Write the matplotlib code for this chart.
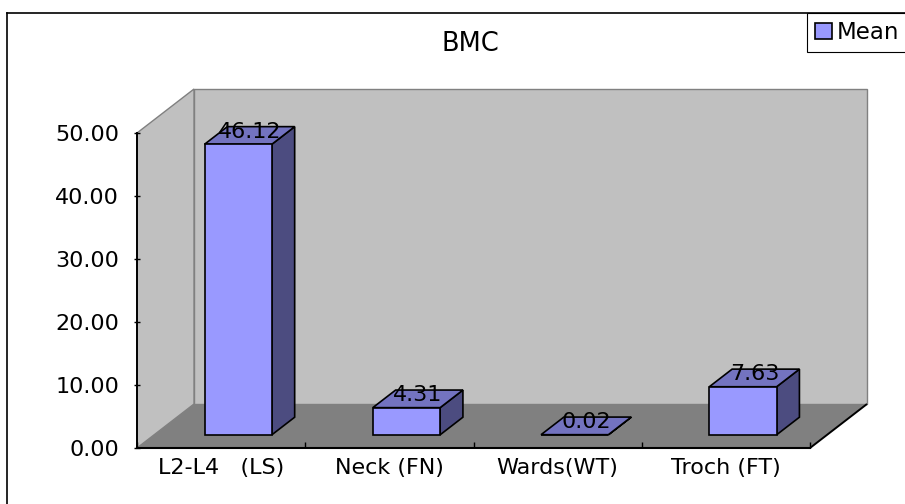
import matplotlib
matplotlib.use("Agg")
import matplotlib.pyplot as plt
from matplotlib.patches import Polygon, Rectangle, Patch
from matplotlib.lines import Line2D
from matplotlib.ticker import FormatStrFormatter, FixedLocator

# ---- data ----
categories = ["L2-L4   (LS)", "Neck (FN)", "Wards(WT)", "Troch (FT)"]
mean_values = [46.12, 4.31, 0.02, 7.63]
y_ticks = [0, 10, 20, 30, 40, 50]
title = "BMC"
series_name = "Mean"

# ---- styling ----
W, H, DPI = 905, 504, 100
FRONT = "#9999ff"
TOP = "#7373c0"
SIDE = "#4c4c80"
WALL = "#c0c0c0"
FLOOR = "#808080"
EDGE_GRAY = "#808080"
FS = 16

plt.rcParams["font.family"] = ["DejaVu Sans"]

fig = plt.figure(figsize=(W / DPI, H / DPI), dpi=DPI)
fig.patch.set_facecolor("white")

# axes rectangle (front plane of the 3-D box), in pixels
ax_left, ax_bottom, ax_w, ax_h = 137, 56, 673, 315
ax = fig.add_axes([ax_left / W, ax_bottom / H, ax_w / W, ax_h / H])
ax.set_facecolor("none")
x0, x1 = -0.5, len(categories) - 0.5
y0, y1 = 0, 50
ax.set_xlim(x0, x1)
ax.set_ylim(y0, y1)

# oblique depth vector expressed in data units
px_x = ax_w / (x1 - x0)
px_y = ax_h / (y1 - y0)
DX = 57 / px_x
DY = 44 / px_y

def pt(x, y, d):
    return (x + d * DX, y + d * DY)

# back wall, side wall, floor
ax.add_patch(Polygon([pt(x0, y0, 1), pt(x1, y0, 1), pt(x1, y1, 1), pt(x0, y1, 1)],
                     closed=True, fc=WALL, ec=EDGE_GRAY, lw=1.0, zorder=0.5, clip_on=False))
ax.add_patch(Polygon([pt(x0, y0, 0), pt(x0, y0, 1), pt(x0, y1, 1), pt(x0, y1, 0)],
                     closed=True, fc=WALL, ec=EDGE_GRAY, lw=1.0, zorder=0.6, clip_on=False))
ax.add_patch(Polygon([pt(x0, y0, 0), pt(x1, y0, 0), pt(x1, y0, 1), pt(x0, y0, 1)],
                     closed=True, fc=FLOOR, ec="none", zorder=0.7, clip_on=False))
fx, fy = zip(pt(x1, y0, 0), pt(x1, y0, 1))
ax.plot(fx, fy, color="black", lw=1.4, zorder=2.4, clip_on=False, solid_capstyle="butt")

# 3-D columns
bar_w = 0.4
d0, d1 = 0.3, 0.7
for i, v in enumerate(mean_values):
    xl, xr = i - bar_w / 2, i + bar_w / 2
    front = [pt(xl, 0, d0), pt(xr, 0, d0), pt(xr, v, d0), pt(xl, v, d0)]
    top = [pt(xl, v, d0), pt(xr, v, d0), pt(xr, v, d1), pt(xl, v, d1)]
    side = [pt(xr, 0, d0), pt(xr, 0, d1), pt(xr, v, d1), pt(xr, v, d0)]
    for poly, col in ((side, SIDE), (top, TOP), (front, FRONT)):
        ax.add_patch(Polygon(poly, closed=True, fc=col, ec="black", lw=1.2,
                             joinstyle="miter", zorder=2, clip_on=False))
    lx, ly = pt(i, v, 0.5)
    ax.text(lx, ly - 0.35, f"{v:.2f}", ha="center", va="baseline",
            fontsize=FS, color="black", zorder=3, clip_on=False)

# axes lines and ticks
for s in ("top", "right"):
    ax.spines[s].set_visible(False)
ax.spines["left"].set_linewidth(1.4)
ax.spines["bottom"].set_linewidth(1.5)
ax.spines["left"].set_zorder(2.5)
ax.spines["bottom"].set_zorder(2.5)

ax.set_yticks(y_ticks)
ax.yaxis.set_major_formatter(FormatStrFormatter("%.2f"))
ax.tick_params(axis="y", direction="inout", length=4, width=1.0, pad=11,
               labelsize=FS, colors="black")

ax.set_xticks(range(len(categories)))
ax.set_xticklabels(categories)
ax.tick_params(axis="x", which="major", length=0, pad=7, labelsize=FS)
ax.xaxis.set_minor_locator(FixedLocator([k - 0.5 for k in range(len(categories) + 1)]))
ax.tick_params(axis="x", which="minor", direction="in", length=4.5, width=1.0)

# title
fig.text(470 / W, 1 - 44 / H, title, ha="center", va="center", fontsize=18.5)

# legend
leg = fig.legend(handles=[Patch(fc=FRONT, ec="black", lw=1.2, label=series_name)],
                 loc="upper left", bbox_to_anchor=(807 / W, 1 - 13 / H),
                 frameon=True, fancybox=False, edgecolor="black", framealpha=1,
                 borderaxespad=0, fontsize=16.5, handlelength=0.75, handleheight=0.75,
                 handletextpad=0.2, borderpad=0.35)
leg.get_frame().set_linewidth(0.8)

# outer chart border
fig.add_artist(Line2D([7 / W, 7 / W], [0, 1 - 13 / H], transform=fig.transFigure,
                      color="black", lw=1.2))
fig.add_artist(Line2D([7 / W, 1], [1 - 13 / H, 1 - 13 / H], transform=fig.transFigure,
                      color="black", lw=1.2))

fig.savefig("out.png", dpi=DPI)
